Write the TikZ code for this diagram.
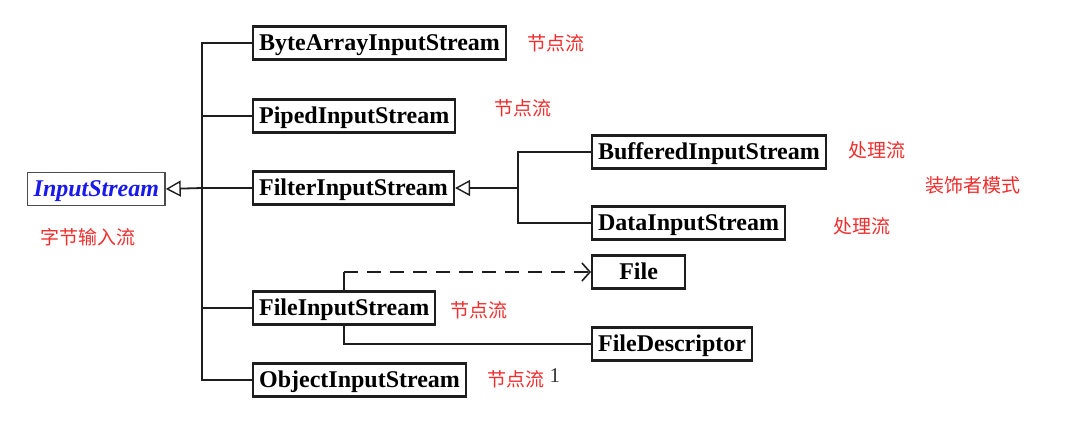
\documentclass[tikz,border=0pt]{standalone}
\usepackage{fontspec}
\setmainfont{Liberation Serif}
\newfontfamily\cjk{Noto Sans CJK SC}
\usetikzlibrary{arrows.meta,positioning}
\definecolor{noteColor}{RGB}{240,45,45}
\definecolor{abstractColor}{RGB}{25,25,235}
\definecolor{lineColor}{RGB}{30,30,30}
\tikzset{classbox/.style={draw=lineColor, line width=2.2pt, fill=white, anchor=west, font=\fontsize{24}{26}\selectfont\bfseries, inner xsep=6pt, inner ysep=5pt, text height=19pt, text depth=4pt}}
\tikzset{abstractbox/.style={classbox, text=abstractColor, font=\fontsize{24}{26}\selectfont\bfseries\itshape, line width=1.4pt, draw=black!70}}
\tikzset{note/.style={text=noteColor, font=\fontsize{19}{21}\selectfont\cjk, inner sep=0pt}}
\tikzstyle{link} = [draw=lineColor, line width=1.8pt]
\tikzstyle{inherit} = [link, -{Triangle[open, fill=white, length=15pt, width=16pt, line width=1.4pt]}]
\tikzstyle{uses} = [link, dash pattern=on 14pt off 9pt, -{Straight Barb[length=8pt, width=18pt, line width=1.6pt]}]

\begin{document}
\begin{tikzpicture}[x=1pt, y=-1pt]
	\useasboundingbox (0,0) rectangle (1087,428);
	% Nodes
	\node (input) [abstractbox] at (27,189) {InputStream};

	\node (byte) [classbox] at (252,43) {ByteArrayInputStream};
	\node (piped) [classbox] at (252,116) {PipedInputStream};
	\node (filter) [classbox] at (252,188) {FilterInputStream};
	\node (fileIn) [classbox] at (252,308) {FileInputStream};
	\node (object) [classbox] at (252,380) {ObjectInputStream};

	\node (buffered) [classbox] at (591,152) {BufferedInputStream};
	\node (data) [classbox] at (591,223) {DataInputStream};
	\node (file) [classbox, minimum width=93pt] at (591,272) {File};
	\node (fileDesc) [classbox] at (591,344) {FileDescriptor};

	% Notes
	\node (noteInput) [note, anchor=west] at (40,237) {字节输入流};
	\node (noteByte) [note, right=20pt of byte] {节点流};
	\node (notePiped) [note, right=38pt of piped, yshift=8pt] {节点流};
	\node (noteFileIn) [note, right=14pt of fileIn, yshift=-2pt] {节点流};
	\node (noteObject) [note, right=20pt of object, yshift=1pt] {节点流};
	\node (noteOne) [right=5pt of noteObject, inner sep=0pt, yshift=3pt, text=black!80, font=\fontsize{21}{22}\selectfont] {1};
	\node (noteBuffered) [note, right=21pt of buffered, yshift=2pt] {处理流};
	\node (noteData) [note, right=47pt of data, yshift=-3pt] {处理流};
	\node (noteDecorator) [note, anchor=west] at (925,185) {装饰者模式};

	% Connectors
	\coordinate (trunk) at (202,0);
	\coordinate (decor) at (518,0);

	\draw [link] (byte.west) -| (trunk |- object.west) -- (object.west);
	\draw [link] (piped.west) -- (piped.west -| trunk);
	\draw [link] (filter.west) -- (filter.west -| trunk);
	\draw [link] (fileIn.west) -- (fileIn.west -| trunk);
	\draw [inherit] (filter.west -| trunk) -- (input.east);

	\draw [link] (buffered.west) -| (decor |- data.west) -- (data.west);
	\draw [inherit] (decor |- filter.east) -- (filter.east);

	\draw [link] (fileIn.north) -- (fileIn.north |- file.west);
	\draw [uses] (fileIn.north |- file.west) -- (file.west);
	\draw [link] (fileIn.south) |- (fileDesc.west);
\end{tikzpicture}
\end{document}
